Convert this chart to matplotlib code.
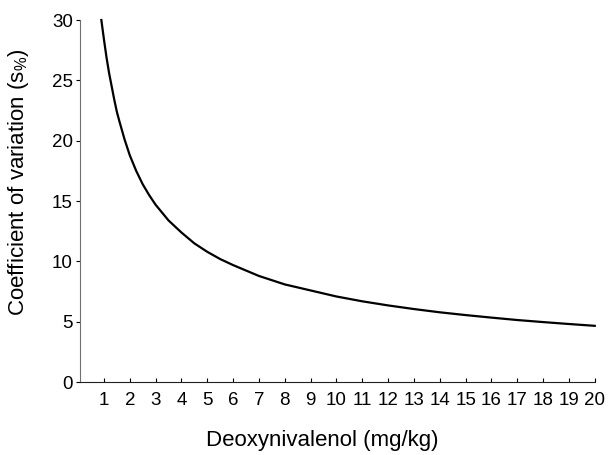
import matplotlib
matplotlib.use("Agg")
import matplotlib.pyplot as plt

plt.rcParams['font.family'] = ['Liberation Sans', 'DejaVu Sans']
plt.rcParams['mathtext.fontset'] = 'custom'
plt.rcParams['mathtext.rm'] = 'Liberation Sans'

# DON concentration (mg/kg) and coefficient of variation (%)
don_conc = [0.9, 1.0, 1.1, 1.2, 1.3, 1.4, 1.5, 1.6, 1.8, 2.0, 2.25, 2.5,
            2.75, 3.0, 3.5, 4.0, 4.5, 5.0, 5.5, 6.0, 7.0, 8.0, 9.0, 10.0,
            11.0, 12.0, 13.0, 14.0, 15.0, 16.0, 17.0, 18.0, 19.0, 20.0]
cv_percent = [30.0, 28.4, 26.9, 25.6, 24.5, 23.4, 22.4, 21.6, 20.1, 18.8,
              17.5, 16.4, 15.5, 14.7, 13.4, 12.4, 11.5, 10.8, 10.2, 9.7,
              8.8, 8.1, 7.6, 7.1, 6.7, 6.36, 6.06, 5.79, 5.56, 5.35, 5.15,
              4.98, 4.82, 4.67]

x_ticks = list(range(1, 21))
y_ticks = [0, 5, 10, 15, 20, 25, 30]


def main():
    fig = plt.figure(figsize=(6.1, 4.55), dpi=100)
    ax = fig.add_axes([0.131, 0.160, 0.844, 0.796])

    ax.plot(don_conc, cv_percent, color='black', lw=1.6, clip_on=False)

    ax.set_xlim(0.07, 20)
    ax.set_ylim(0, 30)
    ax.set_xticks(x_ticks)
    ax.set_yticks(y_ticks)

    ax.spines['top'].set_visible(False)
    ax.spines['right'].set_visible(False)
    ax.spines['left'].set_color('#707070')
    ax.spines['bottom'].set_color('#202020')
    ax.tick_params(axis='x', direction='in', length=3, labelsize=13.5, pad=7)
    ax.tick_params(axis='y', direction='out', length=3, labelsize=13.5, pad=2)

    ax.set_xlabel('Deoxynivalenol (mg/kg)', fontsize=16)
    ax.set_ylabel(r'Coefficient of variation (s$_{\mathregular{\%}}$)',
                  fontsize=16)
    ax.xaxis.set_label_coords(0.47, -0.133)
    ax.yaxis.set_label_coords(-0.095, 0.552)

    fig.savefig('out.png', dpi=100)


if __name__ == "__main__":
    main()
